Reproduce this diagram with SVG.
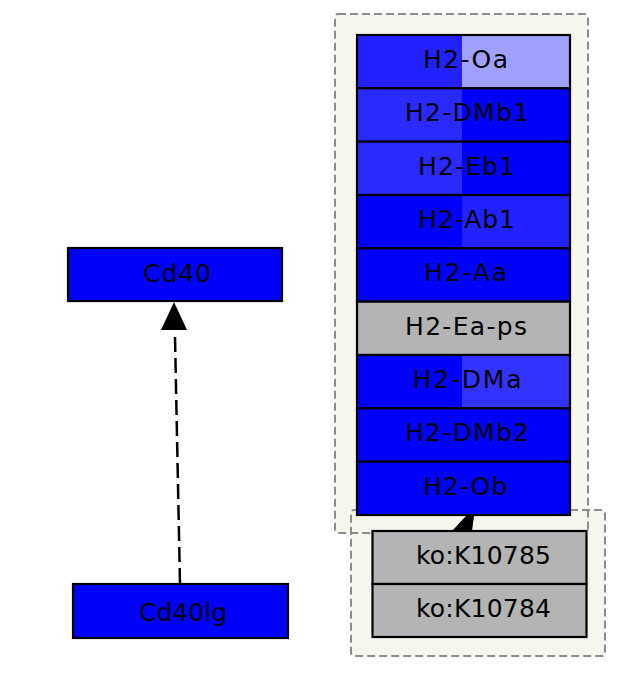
<svg xmlns="http://www.w3.org/2000/svg" width="621" height="676" viewBox="0 0 621 676">
<style>
.lbl{font-family:"DejaVu Sans","Liberation Sans",sans-serif;font-size:25px;fill:#000;text-anchor:middle}
.box{stroke:#000;stroke-width:2.2}
.clfill{fill:#f6f6ee;stroke:none}
.clline{fill:none;stroke:#8c8c8c;stroke-width:2;stroke-dasharray:8,4}
.b{fill:#0000ff}
</style>
<rect width="621" height="676" fill="#fff"/>
<g id="cluster-fills">
<rect class="clfill" x="335" y="14" width="253" height="519" rx="3"/>
<rect class="clfill" x="351" y="510" width="254" height="146" rx="3"/>
</g>
<g id="cluster-borders">
<rect class="clline" x="335" y="14" width="253" height="519" rx="3"/>
<rect class="clline" x="351" y="510" width="254" height="146" rx="3"/>
</g>
<g id="connectors">
<line x1="175" y1="337" x2="180" y2="584" stroke="#000" stroke-width="2.5" stroke-dasharray="15,6"/>
<polygon points="174,302 161,330 187,330" fill="#000"/>
<polygon points="466,516 474,516 472,531 452,531" fill="#000"/>
</g>
<g id="H2-Oa">
<rect x="357" y="35" width="105" height="53.3" fill="#2222ff"/>
<rect x="462" y="35" width="108" height="53.3" fill="#a0a0ff"/>
<rect class="box" x="357" y="35" width="213" height="53.3" fill="none"/>
<text class="lbl" x="465.5" y="68" textLength="85" lengthAdjust="spacing">H2-Oa</text>
</g>
<g id="H2-DMb1">
<rect x="357" y="88.3" width="105" height="53.4" fill="#2a2aff"/>
<rect x="462" y="88.3" width="108" height="53.4" fill="#0000ff"/>
<rect class="box" x="357" y="88.3" width="213" height="53.4" fill="none"/>
<text class="lbl" x="467" y="121.3" textLength="124" lengthAdjust="spacing">H2-DMb1</text>
</g>
<g id="H2-Eb1">
<rect x="357" y="141.7" width="105" height="53.3" fill="#2a2aff"/>
<rect x="462" y="141.7" width="108" height="53.3" fill="#0000ff"/>
<rect class="box" x="357" y="141.7" width="213" height="53.3" fill="none"/>
<text class="lbl" x="466.5" y="174.7" textLength="97" lengthAdjust="spacing">H2-Eb1</text>
</g>
<g id="H2-Ab1">
<rect x="357" y="195" width="105" height="53.3" fill="#0000ff"/>
<rect x="462" y="195" width="108" height="53.3" fill="#2222ff"/>
<rect class="box" x="357" y="195" width="213" height="53.3" fill="none"/>
<text class="lbl" x="466.5" y="228" textLength="97" lengthAdjust="spacing">H2-Ab1</text>
</g>
<g id="H2-Aa">
<rect class="box b" x="357" y="248.3" width="213" height="53.4"/>
<text class="lbl" x="465.5" y="281.3" textLength="83" lengthAdjust="spacing">H2-Aa</text>
</g>
<g id="H2-Ea-ps">
<rect class="box" x="357" y="301.7" width="213" height="53.3" fill="#b4b4b4"/>
<text class="lbl" x="466" y="334.7" textLength="122" lengthAdjust="spacing">H2-Ea-ps</text>
</g>
<g id="H2-DMa">
<rect x="357" y="355" width="105" height="53.3" fill="#0000ff"/>
<rect x="462" y="355" width="108" height="53.3" fill="#3333ff"/>
<rect class="box" x="357" y="355" width="213" height="53.3" fill="none"/>
<text class="lbl" x="467" y="388" textLength="109" lengthAdjust="spacing">H2-DMa</text>
</g>
<g id="H2-DMb2">
<rect class="box b" x="357" y="408.3" width="213" height="53.4"/>
<text class="lbl" x="467" y="441.3" textLength="124" lengthAdjust="spacing">H2-DMb2</text>
</g>
<g id="H2-Ob">
<rect class="box b" x="357" y="461.7" width="213" height="53.3"/>
<text class="lbl" x="465" y="494.7" textLength="84" lengthAdjust="spacing">H2-Ob</text>
</g>
<g id="ko-K10785">
<rect class="box" x="372.5" y="531" width="214" height="53" fill="#b4b4b4"/>
<text class="lbl" x="483.5" y="563.5" textLength="135" lengthAdjust="spacing">ko:K10785</text>
</g>
<g id="ko-K10784">
<rect class="box" x="372.5" y="584" width="214" height="53" fill="#b4b4b4"/>
<text class="lbl" x="483.5" y="616.5" textLength="135" lengthAdjust="spacing">ko:K10784</text>
</g>
<g id="Cd40">
<rect class="box b" x="68" y="248" width="214" height="53"/>
<text class="lbl" x="177" y="281.5" textLength="68" lengthAdjust="spacing">Cd40</text>
</g>
<g id="Cd40lg">
<rect class="box b" x="73" y="584" width="215" height="54"/>
<text class="lbl" x="183" y="621" textLength="88" lengthAdjust="spacing">Cd40lg</text>
</g>
</svg>
